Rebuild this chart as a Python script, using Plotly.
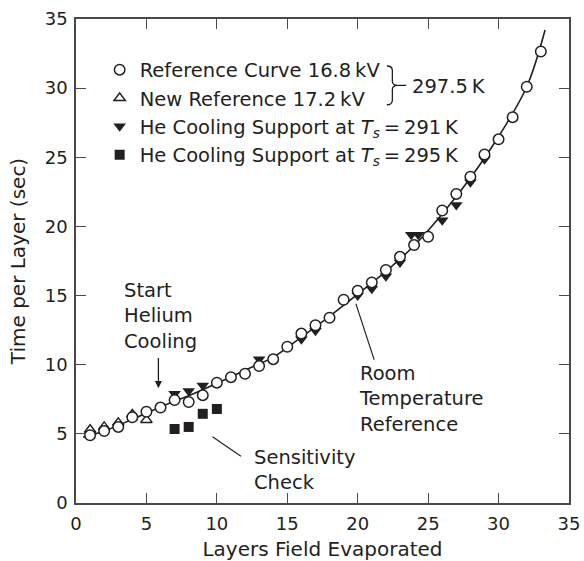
import plotly.graph_objects as go

# ---------------- data ----------------
ref_x = list(range(1, 34))
ref_y = [4.9, 5.2, 5.5, 6.2, 6.6, 6.9, 7.45, 7.3, 7.8, 8.7, 9.1, 9.35, 9.9, 10.4,
         11.3, 12.25, 12.85, 13.4, 14.7, 15.35, 15.95, 16.85, 17.8, 18.65, 19.25,
         21.15, 22.35, 23.6, 25.2, 26.3, 27.9, 30.1, 32.65]

newref_x = [1, 2, 3, 4, 5]
newref_y = [5.3, 5.5, 5.8, 6.4, 6.0]

he291_x = [7, 8, 9, 13, 16, 17, 20, 21, 22, 23, 23.8, 24.3, 26, 27, 28, 29]
he291_y = [7.9, 8.1, 8.5, 10.4, 11.85, 12.45, 15.0, 15.5, 16.4, 17.4, 19.4, 19.4,
           20.45, 21.55, 23.2, 24.85]

he295_x = [7, 8, 9, 10]
he295_y = [5.35, 5.5, 6.45, 6.8]

curve_x = [0.5, 2, 4, 6, 8, 10, 12, 14, 16, 18, 20, 22, 24, 26, 28, 30, 32, 33.3]
curve_y = [4.75, 5.2, 6.05, 6.95, 7.75, 8.65, 9.6, 10.55, 12.0, 13.5, 15.1, 16.75,
           18.6, 20.9, 23.5, 26.5, 30.1, 34.2]

x_ticks = [0, 5, 10, 15, 20, 25, 30, 35]
y_ticks = [0, 5, 10, 15, 20, 25, 30, 35]

# ---------------- style ----------------
INK = "#231f20"
AX = "#4a4a4a"
FONT = "DejaVu Sans"
TXT = 19.5

fig = go.Figure()

fig.add_trace(go.Scatter(x=curve_x, y=curve_y, mode="lines",
                         line=dict(color=INK, width=1.6, shape="spline", smoothing=1.0),
                         showlegend=False, hoverinfo="skip"))

fig.add_trace(go.Scatter(x=he295_x, y=he295_y, mode="markers",
                         name="He Cooling Support at <i>T</i><sub><i>s</i></sub>\u2009=\u2009295\u2009K",
                         legendrank=4,
                         marker=dict(symbol="square", size=10, color=INK,
                                     line=dict(width=0))))

fig.add_trace(go.Scatter(x=he291_x, y=he291_y, mode="markers",
                         name="He Cooling Support at <i>T</i><sub><i>s</i></sub>\u2009=\u2009291\u2009K",
                         legendrank=3,
                         marker=dict(symbol="triangle-down", size=11, color=INK,
                                     line=dict(width=0))))

fig.add_trace(go.Scatter(x=newref_x, y=newref_y, mode="markers",
                         name="New Reference 17.2\u2009kV",
                         legendrank=2,
                         marker=dict(symbol="triangle-up", size=10, color="white",
                                     line=dict(width=1.4, color=INK))))

fig.add_trace(go.Scatter(x=ref_x, y=ref_y, mode="markers",
                         name="Reference Curve 16.8\u2009kV",
                         legendrank=1,
                         marker=dict(symbol="circle", size=10.5, color="white",
                                     line=dict(width=1.5, color=INK))))

annos = [
    dict(x=3.24, y=13.49, text="Start<br>Helium<br>Cooling"),
    dict(x=12.49, y=2.41, text="Sensitivity<br>Check"),
    dict(x=19.96, y=7.52, text="Room<br>Temperature<br>Reference"),
    dict(x=23.7, y=30.15, text="297.5\u2009K"),
]
for a in annos:
    fig.add_annotation(x=a["x"], y=a["y"], xref="x", yref="y", text=a["text"],
                       showarrow=False, xanchor="left", yanchor="middle", align="left",
                       font=dict(family=FONT, size=TXT, color=INK))

# arrow: start helium cooling
fig.add_annotation(x=5.85, y=8.3, ax=5.85, ay=10.6, xref="x", yref="y",
                   axref="x", ayref="y", text="", showarrow=True,
                   arrowhead=2, arrowsize=1.1, arrowwidth=1.3, arrowcolor=INK)

# leader lines
fig.add_shape(type="line", x0=9.69, y0=4.79, x1=11.71, y1=3.38, xref="x", yref="y",
              line=dict(color=INK, width=1.1))
fig.add_shape(type="line", x0=19.87, y0=14.41, x1=21.17, y1=10.36, xref="x", yref="y",
              line=dict(color=INK, width=1.1))

# brace joining first two legend entries
bx0, bx1 = 22.07, 22.85
bxm = (bx0 + bx1) / 2
yt, yb, ym = 31.6, 28.8, 30.2
brace = (f"M{bx0},{yt} Q{bxm},{yt} {bxm},{yt-0.35} L{bxm},{ym+0.3} "
         f"Q{bxm},{ym} {bx1},{ym} Q{bxm},{ym} {bxm},{ym-0.3} "
         f"L{bxm},{yb+0.35} Q{bxm},{yb} {bx0},{yb}")
fig.add_shape(type="path", path=brace, xref="x", yref="y",
              line=dict(color=INK, width=1.3))
fig.add_shape(type="line", x0=bx1, y0=ym, x1=23.45, y1=ym, xref="x", yref="y",
              line=dict(color=INK, width=1.3))

axis_common = dict(showline=True, linecolor=AX, linewidth=1.5, mirror="ticks",
                   ticks="inside", ticklen=10, tickwidth=1.3, tickcolor=AX,
                   showgrid=False, zeroline=False, automargin=False,
                   tickfont=dict(family=FONT, size=18, color=INK))

fig.update_xaxes(range=[0, 35], tickvals=x_ticks, ticktext=[str(v) for v in x_ticks],
                 ticklabelstandoff=4,
                 title=dict(text="Layers Field Evaporated", standoff=14,
                            font=dict(family=FONT, size=20, color=INK)),
                 **axis_common)
fig.update_yaxes(range=[0, 35], tickvals=y_ticks, ticktext=[str(v) for v in y_ticks],
                 ticklabelstandoff=3,
                 title=dict(text="Time per Layer (sec)", standoff=14,
                            font=dict(family=FONT, size=20, color=INK)),
                 **axis_common)

fig.update_layout(
    width=584, height=561, autosize=False,
    margin=dict(l=76, r=15, t=19, b=58),
    paper_bgcolor="white", plot_bgcolor="white",
    font=dict(family=FONT, size=TXT, color=INK),
    showlegend=True,
    legend=dict(x=0.048, y=0.935, xanchor="left", yanchor="top",
                bgcolor="rgba(0,0,0,0)", borderwidth=0,
                font=dict(family=FONT, size=TXT, color=INK),
                traceorder="normal", itemwidth=30, tracegroupgap=0),
)

fig.write_html("out.html")
